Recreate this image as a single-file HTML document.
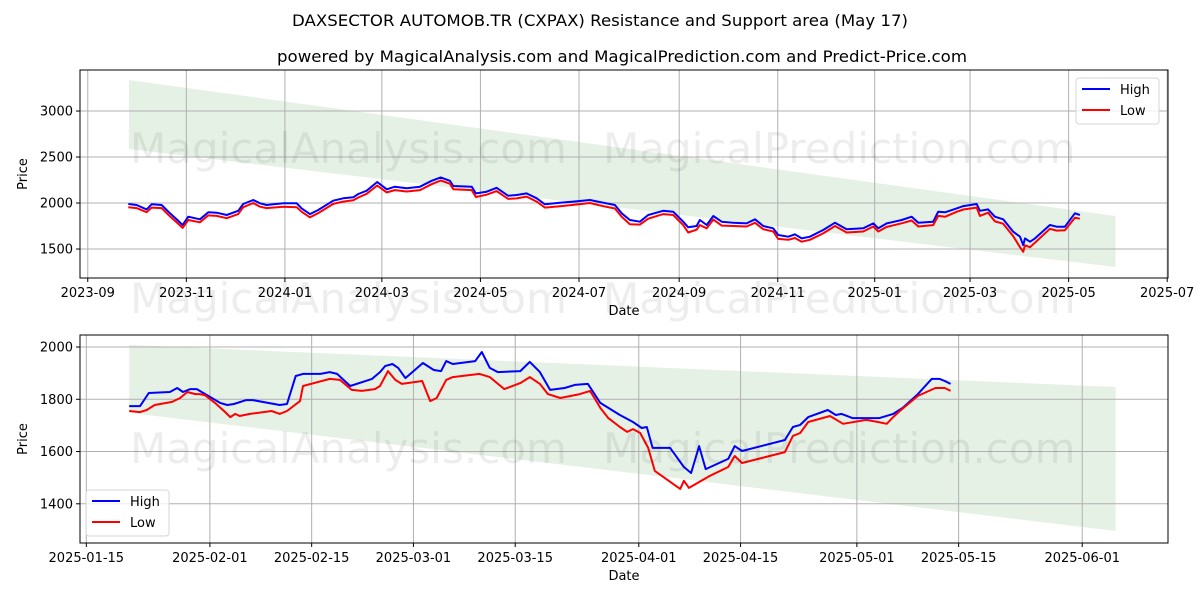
<!DOCTYPE html>
<html><head><meta charset="utf-8">
<style>
html,body{margin:0;padding:0;background:#fff;}
svg{display:block;font-family:"DejaVu Sans","Liberation Sans",sans-serif;}
</style></head>
<body>
<svg id="fig" width="1200" height="600" viewBox="0 0 1200 600" xmlns="http://www.w3.org/2000/svg">
<rect width="1200" height="600" fill="#fff"/>
<text x="600" y="26" text-anchor="middle" font-size="16" textLength="616" lengthAdjust="spacingAndGlyphs">DAXSECTOR AUTOMOB.TR (CXPAX) Resistance and Support area (May 17)</text>
<text x="622" y="62" text-anchor="middle" font-size="16" textLength="690" lengthAdjust="spacingAndGlyphs">powered by MagicalAnalysis.com and MagicalPrediction.com and Predict-Price.com</text>
<g id="top"></g>
<g id="bot"></g>
<g font-size="42" fill="#000" fill-opacity="0.07">
<text x="130" y="163">MagicalAnalysis.com</text>
<text x="603" y="163">MagicalPrediction.com</text>
<text x="130" y="313">MagicalAnalysis.com</text>
<text x="603" y="313">MagicalPrediction.com</text>
<text x="130" y="463">MagicalAnalysis.com</text>
<text x="603" y="463">MagicalPrediction.com</text>
</g>
</svg>
<script>
// ---- top chart data (days since 2023-09-01) ----
const topDays=[25.1,30.2,36.4,39.5,45.7,50.9,55,58.7,62.2,69.4,74.6,79.8,86,93.1,96.2,102.4,106.6,110.7,121,129.3,132.4,137.5,142.6,151.9,158.1,164.3,167.4,172.6,179.1,185,190.1,197.3,205.6,212.8,218.4,224.1,226.2,237.6,240.2,246.8,253,260.2,265.4,271.6,277.8,282.9,292.2,300.4,310.8,319,326.2,330.4,335.5,341.7,346.8,356.1,362.3,368.5,371.6,376.8,378.8,383,387.1,392.3,399.4,407.7,412.9,418,424.2,427.3,433.5,437.6,441.8,446.9,455.1,462.4,469.6,479.9,486.1,489.2,494.4,503.7,509.9,514,523.2,526.3,530.5,537.7,541.8,550.1,552.1,557.2,561.4,566.5,572.7,576.9,578.9,580,583.1,586.2,595.4,599.6,604.7,610.9,614];
const topHigh=[1989,1978,1931,1986,1978,1888,1823,1761,1851,1823,1899,1895,1870,1916,1989,2033,1997,1978,1997,1997,1942,1880,1924,2025,2051,2062,2098,2134,2228,2149,2177,2160,2177,2242,2279,2242,2185,2177,2105,2123,2166,2079,2087,2105,2051,1986,2004,2015,2033,2004,1978,1888,1815,1797,1870,1916,1906,1797,1736,1750,1815,1761,1859,1797,1786,1779,1823,1750,1725,1652,1634,1660,1616,1634,1707,1786,1714,1725,1779,1725,1779,1815,1851,1786,1797,1906,1899,1942,1967,1989,1916,1931,1851,1823,1688,1634,1543,1616,1580,1616,1761,1743,1743,1888,1870];
const topLow=[1955,1945,1900,1950,1945,1855,1790,1730,1815,1790,1865,1860,1835,1880,1955,2000,1960,1945,1960,1955,1905,1845,1890,1990,2015,2030,2060,2100,2190,2115,2140,2125,2140,2205,2245,2210,2150,2140,2065,2090,2130,2045,2050,2070,2015,1950,1965,1980,2000,1965,1940,1850,1770,1765,1830,1880,1870,1760,1680,1710,1760,1725,1820,1755,1750,1745,1785,1715,1690,1610,1600,1620,1580,1600,1670,1750,1680,1690,1745,1690,1740,1780,1810,1745,1760,1860,1850,1905,1930,1950,1860,1895,1800,1775,1640,1520,1470,1540,1520,1570,1720,1700,1705,1840,1830];
const topBandDays=[25.5,636];
const topBandUpper=[3337,1859];
const topBandLower=[2587,1304];
const topYTicks=[1500,2000,2500,3000];
const topXTickDays=[0,61,122,182,243,304,366,427,487,546,607,668];
const topXTickLabels=["2023-09","2023-11","2024-01","2024-03","2024-05","2024-07","2024-09","2024-11","2025-01","2025-03","2025-05","2025-07"];
// ---- bottom chart data (days since 2025-01-15) ----
const botHighDays=[5.9,7.4,8.6,11.5,12.5,13.3,14.3,15.2,18.4,19.4,20.3,22.0,22.9,26.6,27.6,28.8,29.8,32.2,33.5,34.5,36.3,39.3,40.4,41.1,42.1,42.9,43.9,46.3,47.8,48.8,49.5,50.4,53.5,54.4,55.5,56.6,59.7,61.0,62.4,63.8,65.8,67.2,69.0,70.7,73.4,75.2,76.4,77.1,77.9,80.3,82.2,83.2,84.3,85.2,88.3,89.2,90.2,96.1,97.2,98.2,99.3,102.0,103.1,103.9,105.4,109.1,111.0,112.3,114.4,116.3,117.4,118.1,118.9];
const botHigh=[1774,1774,1824,1828,1843,1828,1839,1839,1786,1778,1782,1797,1797,1778,1782,1889,1897,1897,1904,1897,1851,1878,1904,1927,1935,1920,1881,1939,1912,1908,1946,1935,1946,1981,1920,1904,1908,1943,1904,1836,1843,1855,1859,1786,1740,1713,1690,1694,1614,1614,1541,1518,1621,1533,1572,1621,1602,1644,1694,1702,1732,1759,1740,1744,1728,1728,1744,1767,1820,1878,1878,1870,1859];
const botLowDays=[5.9,7.4,8.3,9.4,11.8,12.9,13.9,15.0,15.6,16.3,17.7,19.1,19.8,20.5,21.1,22.5,25.5,26.6,27.6,29.4,29.8,33.5,34.9,36.5,37.9,39.7,40.4,41.5,42.5,43.4,46.2,47.3,48.2,49.5,50.4,54.1,55.5,57.5,59.7,61.0,62.4,63.5,65.2,67.9,69.3,70.7,71.8,73.4,74.4,75.2,76.2,77.3,78.2,81.7,82.2,82.9,85.8,88.3,89.2,90.2,96.1,97.2,98.2,99.3,102.3,104.1,107.3,108.9,110.1,111.0,111.9,112.9,114.4,116.8,118.1,118.9];
const botLow=[1755,1751,1759,1778,1790,1805,1828,1820,1820,1816,1786,1751,1732,1744,1736,1744,1755,1744,1755,1793,1851,1878,1874,1836,1832,1839,1851,1908,1874,1859,1870,1793,1805,1874,1885,1897,1885,1839,1862,1885,1859,1820,1805,1820,1832,1767,1728,1694,1675,1686,1671,1614,1526,1457,1488,1461,1507,1541,1583,1556,1598,1660,1671,1713,1736,1706,1721,1713,1706,1732,1755,1778,1813,1843,1843,1832];
const botBandDays=[5.9,141.6];
const botBandUpper=[2008,1847];
const botBandLower=[1748,1296];
const botYTicks=[1400,1600,1800,2000];
const botXTickDays=[0,17,31,45,59,76,90,106,120,137];
const botXTickLabels=["2025-01-15","2025-02-01","2025-02-15","2025-03-01","2025-03-15","2025-04-01","2025-04-15","2025-05-01","2025-05-15","2025-06-01"];

const NS="http://www.w3.org/2000/svg";
function mk(tag,attrs,parent){const e=document.createElementNS(NS,tag);for(const k in attrs)e.setAttribute(k,attrs[k]);parent.appendChild(e);return e;}

function drawChart(g,o){
  const L=80,R=1168,T=o.top,B=o.top+208;
  const xs=d=>L+(d-o.d0)/(o.d1-o.d0)*(R-L);
  const ys=v=>B-(v-o.v0)/(o.v1-o.v0)*(B-T);
  // band
  const band=mk('polygon',{points:[xs(o.bandDays[0])+','+ys(o.bandUpper[0]),xs(o.bandDays[1])+','+ys(o.bandUpper[1]),xs(o.bandDays[1])+','+ys(o.bandLower[1]),xs(o.bandDays[0])+','+ys(o.bandLower[0])].join(' '),fill:'#2e8b2e','fill-opacity':'0.12'},g);
  
  
  // grid
  o.yTicks.forEach(v=>{const y=ys(v);
    const gl=mk('line',{x1:L,x2:R,y1:y,y2:y,stroke:'#b0b0b0','stroke-width':1},g);
    
    
    mk('line',{x1:L-4,x2:L,y1:y,y2:y,stroke:'#000'},g);
    const t=mk('text',{x:L-7,y:y+4.5,'text-anchor':'end','font-size':13},g);t.textContent=v;
    
    
  });
  o.xDays.forEach((d,i)=>{const x=xs(d);
    const gl=mk('line',{x1:x,x2:x,y1:T,y2:B,stroke:'#b0b0b0','stroke-width':1},g);
    
    
    mk('line',{x1:x,x2:x,y1:B,y2:B+4,stroke:'#000'},g);
    const t=mk('text',{x:x,y:B+19,'text-anchor':'middle','font-size':13},g);t.textContent=o.xLabels[i];
    
    
  });
  function line(days,vals,color,name){
    const p=mk('polyline',{points:days.map((d,i)=>xs(d).toFixed(1)+','+ys(vals[i]).toFixed(1)).join(' '),fill:'none',stroke:color,'stroke-width':2,'stroke-linejoin':'round'},g);
    
    
  }
  line(o.hDays,o.high,'#0000ff','high-line');
  line(o.lDays,o.low,'#ff0000','low-line');
  const fr=mk('rect',{x:L,y:T,width:R-L,height:B-T,fill:'none',stroke:'#000','stroke-width':1},g);
  
  
  const xt=mk('text',{x:(L+R)/2,y:B+37,'text-anchor':'middle','font-size':13},g);xt.textContent='Date';
  
  
  const yc=(T+B)/2;
  const yt=mk('text',{x:o.ytx,y:yc,'text-anchor':'middle','font-size':13,transform:'rotate(-90 '+o.ytx+' '+yc+')'},g);yt.textContent='Price';
  
  
  // legend
  const lg=mk('g',{},g);
  
  
  mk('rect',{x:o.lx,y:o.ly,width:83,height:46,rx:3,fill:'#fff','fill-opacity':0.8,stroke:'#d6d6d6'},lg);
  [['High','#0000ff'],['Low','#ff0000']].forEach((e,i)=>{
    const en=mk('g',{},lg);
    
    
    const yy=o.ly+11+i*21;
    mk('line',{x1:o.lx+6,x2:o.lx+34,y1:yy,y2:yy,stroke:e[1],'stroke-width':2},en);
    const t=mk('text',{x:o.lx+44,y:yy+5,'font-size':13},en);t.textContent=e[0];
  });
}
drawChart(document.getElementById('top'),{top:70,d0:-4.8,d1:668.5,v0:1185,v1:3446,bandDays:topBandDays,bandUpper:topBandUpper,bandLower:topBandLower,yTicks:topYTicks,xDays:topXTickDays,xLabels:topXTickLabels,hDays:topDays,high:topHigh,lDays:topDays,low:topLow,ytx:27,lx:1076,ly:78});
drawChart(document.getElementById('bot'),{top:335,d0:-0.87,d1:148.8,v0:1250,v1:2046,bandDays:botBandDays,bandUpper:botBandUpper,bandLower:botBandLower,yTicks:botYTicks,xDays:botXTickDays,xLabels:botXTickLabels,hDays:botHighDays,high:botHigh,lDays:botLowDays,low:botLow,ytx:27,lx:86,ly:490});
</script>
</body></html>
